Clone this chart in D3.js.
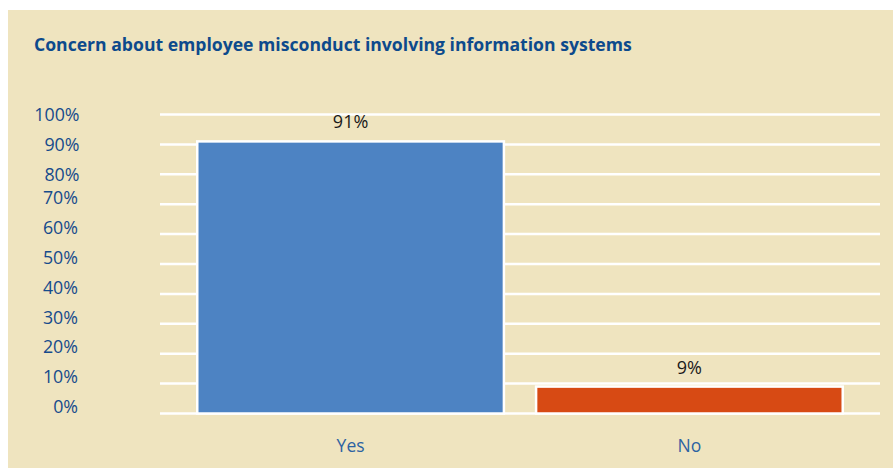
<!DOCTYPE html>
<html>
<head>
<meta charset="utf-8">
<script src="https://cdn.jsdelivr.net/npm/d3@7"></script>
<style>
  html, body { margin: 0; padding: 0; background: #ffffff; }
  svg { display: block; }
  text { font-family: "Open Sans", "Noto Sans", sans-serif; }
</style>
</head>
<body>
<svg id="chart" width="893" height="468"></svg>
<script>
// Survey answers and their shares (percent)
const categories = ["Yes", "No"];
const values = [91, 9];
const barColors = ["#4d83c3", "#d74a14"];
const tickValues = [0, 10, 20, 30, 40, 50, 60, 70, 80, 90, 100];
const tickLabels = ["0%", "10%", "20%", "30%", "40%", "50%", "60%", "70%", "80%", "90%", "100%"];
const title = "Concern about employee misconduct involving information systems";

const svg = d3.select("#chart");

// panel background
svg.append("rect")
  .attr("x", 8).attr("y", 10)
  .attr("width", 885).attr("height", 458)
  .attr("fill", "#efe4bf");

svg.append("text")
  .attr("x", 34).attr("y", 51)
  .attr("fill", "#0d4a8c")
  .attr("font-weight", "bold")
  .attr("font-size", 17.6)
  .text(title);

const plot = { left: 160, right: 880, top: 114.5, bottom: 413.5 };

const y = d3.scaleLinear().domain([0, 100]).range([plot.bottom, plot.top]);
const x = d3.scaleBand().domain(categories)
  .range([plot.left, plot.right])
  .paddingInner(0.095).paddingOuter(0.11);

// horizontal gridlines
svg.append("g")
  .selectAll("line")
  .data(tickValues)
  .join("line")
  .attr("x1", plot.left).attr("x2", plot.right)
  .attr("y1", d => y(d)).attr("y2", d => y(d))
  .attr("stroke", "#ffffff")
  .attr("stroke-width", 2.5);

// y-axis labels; the lower ones sit a little above their gridline
svg.append("g")
  .selectAll("text")
  .data(tickValues)
  .join("text")
  .attr("x", d => d >= 80 ? 79.5 : 78)
  .attr("y", d => y(d) + (d >= 80 ? 0 : -6.5))
  .attr("dy", "0.35em")
  .attr("text-anchor", "end")
  .attr("fill", "#164b8c")
  .attr("font-size", 17.8)
  .text((d, i) => tickLabels[i]);

// bars
svg.append("g")
  .selectAll("rect")
  .data(values)
  .join("rect")
  .attr("x", (d, i) => x(categories[i]))
  .attr("y", d => y(d))
  .attr("width", x.bandwidth())
  .attr("height", d => y(0) - y(d))
  .attr("fill", (d, i) => barColors[i])
  .attr("stroke", "#ffffff")
  .attr("stroke-width", 2.5);

// value labels
svg.append("g")
  .selectAll("text")
  .data(values)
  .join("text")
  .attr("x", (d, i) => x(categories[i]) + x.bandwidth() / 2)
  .attr("y", d => y(d) - 13)
  .attr("text-anchor", "middle")
  .attr("fill", "#1a1a1a")
  .attr("font-size", 18)
  .text(d => d + "%");

// category labels
svg.append("g")
  .selectAll("text")
  .data(categories)
  .join("text")
  .attr("x", d => x(d) + x.bandwidth() / 2)
  .attr("y", 452)
  .attr("text-anchor", "middle")
  .attr("fill", "#2c62a2")
  .attr("font-size", 17.5)
  .text(d => d);
</script>
</body>
</html>
